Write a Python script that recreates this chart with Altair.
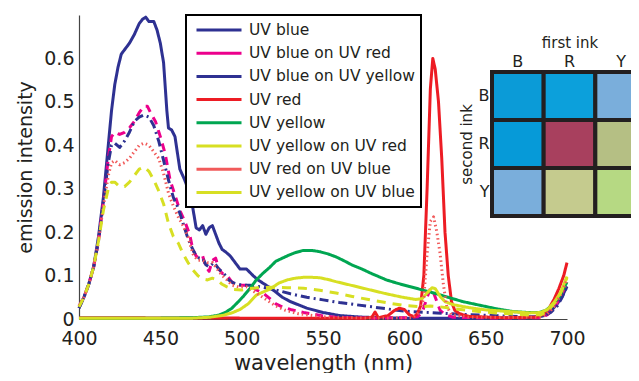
import altair as alt
import pandas as pd

# ---------------- data ----------------
series_names = ["UV blue", "UV blue on UV red", "UV blue on UV yellow", "UV red",
                "UV yellow", "UV yellow on UV red", "UV red on UV blue", "UV yellow on UV blue"]
series_colors = ["#2E3192", "#EC008C", "#2E3192", "#ED1C24",
                 "#00A651", "#D7DF23", "#F15A5A", "#D7DF23"]
series_dashes = [[1, 0], [8, 6], [9, 4, 2, 4], [1, 0], [1, 0], [1, 0], [1.5, 3], [9, 7]]
series_widths = [3, 3, 3, 3, 3, 3, 1.5, 3]

uv_blue_wl = [400, 403, 406, 409, 412, 415, 418, 420, 422, 424, 426, 428, 431, 434, 437, 439, 441, 443, 446, 448,
              450, 452, 454, 455, 457, 459, 462, 465, 468, 470, 472, 474, 476, 478, 480, 482, 484, 486, 488, 490,
              493, 496, 499, 503, 507, 510, 515, 520, 525, 530, 540, 550, 560, 575, 600, 650, 680, 686, 690, 694,
              697, 700]
uv_blue_val = [0.025, 0.05, 0.08, 0.12, 0.19, 0.28, 0.40, 0.48, 0.54, 0.58, 0.61, 0.62, 0.635, 0.655, 0.68, 0.69,
               0.695, 0.685, 0.685, 0.665, 0.635, 0.59, 0.48, 0.44, 0.435, 0.42, 0.345, 0.32, 0.29, 0.255, 0.21,
               0.205, 0.215, 0.195, 0.21, 0.215, 0.195, 0.175, 0.16, 0.155, 0.145, 0.13, 0.115, 0.115, 0.10, 0.09,
               0.078, 0.065, 0.05, 0.04, 0.025, 0.015, 0.008, 0.004, 0.002, 0.002, 0.003, 0.008, 0.018, 0.035,
               0.052, 0.075]

blue_on_red_wl = [400, 403, 406, 409, 412, 415, 418, 420, 422, 425, 428, 431, 434, 437, 440, 442, 444, 447, 450,
                  453, 456, 459, 462, 465, 468, 470, 472, 474, 476, 478, 480, 482, 484, 486, 488, 491, 494, 497,
                  500, 505, 509, 513, 517, 521, 525, 530, 538, 550, 560, 580, 600, 608, 611, 614, 616, 618, 620,
                  622, 625, 630, 660, 684, 688, 692, 696, 700]
blue_on_red_val = [0.03, 0.05, 0.08, 0.12, 0.18, 0.27, 0.37, 0.42, 0.43, 0.425, 0.43, 0.44, 0.455, 0.475, 0.49,
                   0.49, 0.475, 0.455, 0.42, 0.38, 0.32, 0.285, 0.25, 0.225, 0.195, 0.16, 0.145, 0.14, 0.145,
                   0.12, 0.11, 0.135, 0.14, 0.115, 0.105, 0.10, 0.085, 0.078, 0.078, 0.078, 0.067, 0.06, 0.048,
                   0.035, 0.028, 0.022, 0.015, 0.007, 0.003, 0.002, 0.003, 0.005, 0.015, 0.05, 0.07, 0.06, 0.04,
                   0.02, 0.01, 0.004, 0.002, 0.003, 0.01, 0.025, 0.05, 0.085]

blue_on_yellow_wl = [400, 403, 406, 409, 412, 415, 418, 420, 422, 425, 428, 431, 434, 437, 440, 443, 446, 449,
                     452, 455, 458, 461, 464, 467, 470, 472, 474, 476, 478, 480, 483, 486, 489, 492, 495, 500,
                     505, 510, 520, 530, 540, 550, 560, 570, 580, 590, 600, 620, 640, 660, 680, 686, 690, 694,
                     697, 700]
blue_on_yellow_val = [0.025, 0.05, 0.08, 0.12, 0.18, 0.27, 0.36, 0.40, 0.405, 0.395, 0.41, 0.43, 0.455, 0.465,
                      0.47, 0.465, 0.445, 0.41, 0.365, 0.32, 0.28, 0.255, 0.22, 0.185, 0.16, 0.145, 0.14, 0.14,
                      0.125, 0.12, 0.13, 0.115, 0.105, 0.09, 0.083, 0.078, 0.078, 0.075, 0.068, 0.058, 0.05,
                      0.044, 0.038, 0.033, 0.028, 0.023, 0.018, 0.014, 0.01, 0.007, 0.005, 0.008, 0.015, 0.03,
                      0.05, 0.075]

uv_red_wl = [400, 500, 575, 580, 582, 584, 590, 594, 597, 600, 603, 606, 608, 610, 612, 614, 616, 617.5, 619,
             621, 623, 625, 627, 629, 631, 634, 640, 660, 680, 685, 689, 692, 695, 698, 700]
uv_red_val = [0.003, 0.002, 0.002, 0.004, 0.016, 0.003, 0.008, 0.02, 0.025, 0.022, 0.01, 0.005, 0.012, 0.03,
              0.10, 0.30, 0.53, 0.60, 0.575, 0.50, 0.37, 0.20, 0.10, 0.04, 0.02, 0.012, 0.006, 0.003, 0.004,
              0.01, 0.025, 0.045, 0.07, 0.10, 0.13]

uv_yellow_wl = [400, 450, 470, 480, 486, 490, 494, 498, 501, 505, 509, 513, 517, 521, 525, 529, 533, 538, 543,
                548, 553, 558, 563, 568, 574, 579, 584, 589, 596, 603, 610, 618, 626, 636, 646, 656, 667, 676,
                683, 687, 691, 695, 700]
uv_yellow_val = [0.002, 0.002, 0.003, 0.005, 0.009, 0.015, 0.025, 0.04, 0.052, 0.07, 0.09, 0.105, 0.118, 0.133,
                 0.14, 0.147, 0.153, 0.158, 0.158, 0.155, 0.15, 0.143, 0.134, 0.124, 0.115, 0.106, 0.098, 0.09,
                 0.082, 0.075, 0.068, 0.06, 0.051, 0.04, 0.032, 0.024, 0.017, 0.015, 0.015, 0.02, 0.032, 0.05,
                 0.085]

yellow_on_red_wl = [400, 470, 480, 488, 494, 499, 504, 509, 513, 517, 523, 528, 533, 538, 543, 548, 553, 558,
                    568, 579, 589, 599, 607, 611, 614, 617, 619, 622, 625, 630, 640, 650, 665, 677, 684, 688,
                    692, 696, 700]
yellow_on_red_val = [0.002, 0.002, 0.004, 0.008, 0.014, 0.022, 0.035, 0.055, 0.062, 0.068, 0.083, 0.09, 0.094,
                     0.096, 0.096, 0.095, 0.091, 0.086, 0.077, 0.067, 0.058, 0.05, 0.045, 0.047, 0.06, 0.072,
                     0.07, 0.052, 0.04, 0.033, 0.026, 0.021, 0.017, 0.014, 0.015, 0.022, 0.038, 0.06, 0.098]

red_on_blue_wl = [400, 403, 406, 409, 412, 415, 418, 420, 422, 425, 428, 431, 434, 437, 440, 443, 446, 449, 452,
                  455, 458, 461, 464, 467, 470, 473, 476, 479, 482, 485, 488, 491, 494, 498, 503, 508, 513, 517,
                  521, 527, 535, 550, 580, 605, 609, 612, 614, 616, 618, 620, 622, 624, 626, 629, 640, 684, 688,
                  692, 696, 700]
red_on_blue_val = [0.03, 0.05, 0.08, 0.12, 0.18, 0.26, 0.33, 0.36, 0.365, 0.355, 0.36, 0.37, 0.385, 0.40, 0.405,
                   0.40, 0.385, 0.37, 0.335, 0.29, 0.26, 0.235, 0.215, 0.19, 0.15, 0.135, 0.135, 0.13, 0.13,
                   0.115, 0.10, 0.09, 0.078, 0.074, 0.074, 0.062, 0.05, 0.04, 0.03, 0.02, 0.012, 0.005, 0.002,
                   0.003, 0.015, 0.05, 0.15, 0.225, 0.235, 0.20, 0.15, 0.08, 0.03, 0.01, 0.004, 0.004, 0.012,
                   0.028, 0.055, 0.09]

yellow_on_blue_wl = [400, 403, 406, 409, 412, 415, 418, 420, 422, 425, 428, 431, 434, 437, 440, 443, 446, 449,
                     452, 455, 458, 461, 464, 467, 470, 473, 476, 479, 482, 485, 488, 491, 495, 500, 505, 510,
                     517, 528, 538, 548, 558, 568, 579, 590, 600, 610, 616, 622, 630, 649, 665, 677, 684, 688,
                     692, 696, 700]
yellow_on_blue_val = [0.028, 0.05, 0.08, 0.12, 0.18, 0.25, 0.30, 0.315, 0.315, 0.305, 0.305, 0.315, 0.33, 0.345,
                      0.35, 0.34, 0.32, 0.295, 0.265, 0.22, 0.19, 0.175, 0.15, 0.13, 0.113, 0.10, 0.092, 0.09,
                      0.094, 0.09, 0.08, 0.074, 0.068, 0.067, 0.07, 0.072, 0.073, 0.072, 0.071, 0.066, 0.06,
                      0.052, 0.044, 0.037, 0.031, 0.028, 0.03, 0.028, 0.024, 0.016, 0.012, 0.009, 0.01, 0.018,
                      0.035, 0.06, 0.095]

series_wl = [uv_blue_wl, blue_on_red_wl, blue_on_yellow_wl, uv_red_wl,
             uv_yellow_wl, yellow_on_red_wl, red_on_blue_wl, yellow_on_blue_wl]
series_val = [uv_blue_val, blue_on_red_val, blue_on_yellow_val, uv_red_val,
              uv_yellow_val, yellow_on_red_val, red_on_blue_val, yellow_on_blue_val]

# inset: colours of ink combinations
ink_labels = ["B", "R", "Y"]
inset_first = ["B", "R", "Y", "B", "R", "Y", "B", "R", "Y"]
inset_second = ["B", "B", "B", "R", "R", "R", "Y", "Y", "Y"]
inset_colors = ["#0B9BD7", "#0CA0DB", "#7AAEDB",
                "#069AD8", "#A8405E", "#B5BF84",
                "#7AAEDB", "#C5CB8E", "#B6D983"]

# ---------------- build tables ----------------
rows = []
for name, wls, vals in zip(series_names, series_wl, series_val):
    for w, v in zip(wls, vals):
        rows.append({"series": name, "wl": w, "val": v})
df = pd.DataFrame(rows)
inset_df = pd.DataFrame({"first": inset_first, "second": inset_second, "color": inset_colors})

FONT = "DejaVu Sans"
TXT = "#231F20"

legend = alt.Legend(
    title=None, orient="none", legendX=107, legendY=0,
    symbolType="M-1,0H5", symbolSize=225, symbolOffset=3, labelOffset=36,
    symbolStrokeWidth=3,
    labelFontSize=15.5, labelFont=FONT, labelColor=TXT, labelLimit=400,
    rowPadding=5.2, padding=6, strokeColor="black", fillColor="white",
)

lines = alt.Chart(df).mark_line(strokeJoin="round").encode(
    x=alt.X("wl:Q", scale=alt.Scale(domain=[400, 700], nice=False, zero=False),
            axis=alt.Axis(values=[400, 450, 500, 550, 600, 650, 700], format="d",
                          title="wavelength (nm)", titleFontSize=21, labelFontSize=19,
                          labelPadding=10, labelFlush=False, labelOverlap=False,
                          titleBaseline="alphabetic", titleY=50, ticks=False)),
    y=alt.Y("val:Q", scale=alt.Scale(domain=[0, 0.7], nice=False),
            axis=alt.Axis(values=[0, 0.1, 0.2, 0.3, 0.4, 0.5, 0.6],
                          labelExpr="datum.value == 0 ? '0' : format(datum.value, '.1f')",
                          title="emission intensity", titleFontSize=19, labelFontSize=19,
                          labelPadding=5, titlePadding=8, labelFlush=False, labelOverlap=False,
                          ticks=False)),
    color=alt.Color("series:N", scale=alt.Scale(domain=series_names, range=series_colors), legend=legend),
    strokeDash=alt.StrokeDash("series:N", scale=alt.Scale(domain=series_names, range=series_dashes), legend=legend),
    strokeWidth=alt.StrokeWidth("series:N", scale=alt.Scale(domain=series_names, range=series_widths), legend=None),
    detail="series:N",
)

inset = alt.Chart(inset_df).mark_rect(stroke="#231F20", strokeWidth=4).encode(
    x=alt.X("first:N", scale=alt.Scale(domain=ink_labels, range=[413, 568], paddingInner=0, paddingOuter=0),
            axis=alt.Axis(orient="top", offset=-57, title="first ink", domain=False, ticks=False,
                          labelAngle=0, labelFontSize=16, titleFontSize=15, labelPadding=3, titlePadding=3)),
    y=alt.Y("second:N", scale=alt.Scale(domain=ink_labels, range=[57, 201], paddingInner=0, paddingOuter=0),
            axis=alt.Axis(orient="left", offset=-413, title="second ink", domain=False, ticks=False,
                          labelFontSize=16, titleFontSize=15, labelPadding=3, titlePadding=3)),
    fill=alt.Fill("color:N", scale=None, legend=None),
)

chart = alt.layer(lines, inset).resolve_scale(
    x="independent", y="independent", color="independent"
).resolve_axis(x="independent", y="independent").properties(
    width=488, height=304,
    autosize=alt.AutoSizeParams(type="none"),
    padding={"left": 71, "top": 7, "right": 64, "bottom": 54},
).configure_view(stroke=None).configure_axis(
    grid=False, domainColor="#444444", domainWidth=1.2, labelColor=TXT, titleColor=TXT,
    labelFont=FONT, titleFont=FONT, titleFontWeight="normal",
).configure_legend(strokeWidth=2)

chart.save("out.html", embed_options={"renderer": "svg", "actions": False})
